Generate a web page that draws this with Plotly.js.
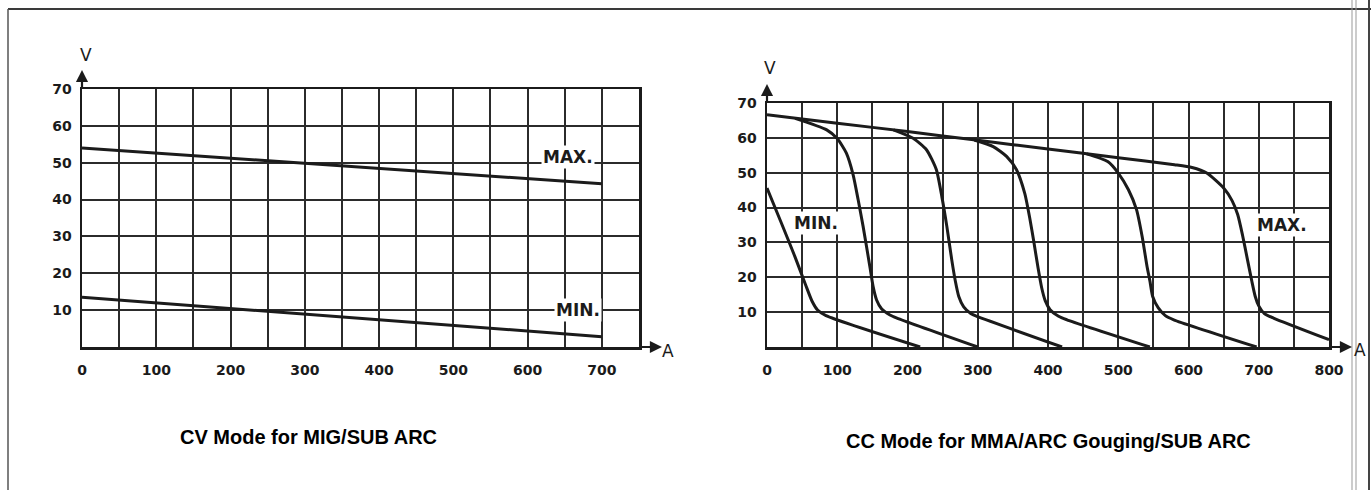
<!DOCTYPE html>
<html>
<head>
<meta charset="utf-8">
<script src="https://cdn.plot.ly/plotly-3.0.1.min.js"></script>
<style>html,body{margin:0;padding:0;background:#fff;}#chart{width:1371px;height:490px;}</style>
</head>
<body>
<div id="chart"></div>
<script>
// ---------- DATA ----------
// CV mode (left chart)
const cvAmps = [0, 700];
const cvMaxVolts = [54, 44.3];
const cvMinVolts = [13.5, 2.8];

// CC mode (right chart) - family of drooping curves
const ccMinAmps  = [0, 20, 40, 55, 64, 72, 84, 218];
const ccMinVolts = [45.6, 35.8, 25.8, 17.8, 13.2, 10.6, 9, 0];

const cc2Amps  = [40, 85, 100, 113, 122.6, 129.7, 136.8, 146.4, 151, 156, 163, 175, 185, 300];
const cc2Volts = [65.6, 62.3, 59.8, 55.6, 49.4, 42.3, 34.6, 23.1, 17.4, 13.5, 11, 9.2, 8.3, 0];

const cc3Amps  = [180, 208, 227, 241, 249, 256, 263, 268, 273, 280, 290, 300, 420];
const cc3Volts = [62.3, 59.9, 56.6, 50.9, 43, 34.6, 25, 19, 14.5, 11.5, 9.6, 8.7, 0];

const cc4Amps  = [295, 322, 341, 355, 367, 374, 380, 386, 391, 396, 403, 415, 427, 545];
const cc4Volts = [59.4, 57.5, 54.7, 50.9, 44, 37, 30, 22.5, 17, 13.3, 10.7, 8.8, 7.8, 0];

const cc5Amps  = [455, 485, 500, 514.5, 526, 534, 541, 545, 549, 557, 567, 579, 697];
const cc5Volts = [55.4, 53.2, 49.9, 45.1, 39.4, 31.7, 23.1, 19, 14.5, 11.2, 9, 7.8, 0];

const ccMaxAmps  = [0, 100, 200, 300, 400, 500, 580, 605, 626, 650, 662, 670, 677, 684, 690, 695, 700, 708, 721, 800];
const ccMaxVolts = [66.6, 64.2, 61.8, 59.3, 56.8, 54.3, 52.3, 51.5, 49.9, 45.6, 42, 38, 32, 25, 19, 14.5, 11.8, 9.6, 8.3, 2.1];

// Axis ticks
const yTickVals = [10, 20, 30, 40, 50, 60, 70];
const cvXRange = [0, 750];
const ccXRange = [0, 800];
const voltRange = [0, 70];

// Text
const cvTitle = 'CV Mode for MIG/SUB ARC';
const ccTitle = 'CC Mode for MMA/ARC Gouging/SUB ARC';

// ---------- STYLE ----------
const W = 1371, H = 490;
const px = x => x / W;
const py = y => 1 - y / H;
const ink = '#1b1b1b';
const gridInk = '#2b2b2b';
const tickFont = {family: 'DejaVu Sans', size: 14, color: ink, weight: 'bold'};

function curve(x, y, xa, ya) {
  return {x: x, y: y, xaxis: xa, yaxis: ya, type: 'scatter', mode: 'lines',
          line: {color: ink, width: 3, shape: 'spline', smoothing: 0.6},
          hoverinfo: 'skip'};
}

const traces = [
  curve(cvAmps, cvMaxVolts, 'x', 'y'),
  curve(cvAmps, cvMinVolts, 'x', 'y'),
  curve(ccMinAmps, ccMinVolts, 'x2', 'y2'),
  curve(cc2Amps, cc2Volts, 'x2', 'y2'),
  curve(cc3Amps, cc3Volts, 'x2', 'y2'),
  curve(cc4Amps, cc4Volts, 'x2', 'y2'),
  curve(cc5Amps, cc5Volts, 'x2', 'y2'),
  curve(ccMaxAmps, ccMaxVolts, 'x2', 'y2')
];

function xAxis(domain, range, anchor) {
  return {domain: domain, range: range, anchor: anchor, tick0: 0, dtick: 100,
          showgrid: true, gridcolor: gridInk, gridwidth: 2,
          minor: {tick0: 0, dtick: 50, showgrid: true, gridcolor: gridInk, gridwidth: 2, ticks: ''},
          showline: true, linecolor: ink, linewidth: 2.5, mirror: true,
          ticks: '', ticklabelstandoff: 9, tickfont: tickFont, zeroline: false, fixedrange: true};
}
function yAxis(domain, anchor) {
  return {domain: domain, range: voltRange, anchor: anchor, tickvals: yTickVals,
          showgrid: true, gridcolor: gridInk, gridwidth: 2,
          showline: true, linecolor: ink, linewidth: 2.5, mirror: true,
          ticks: '', ticklabelstandoff: 5, tickfont: tickFont, zeroline: false, fixedrange: true};
}

function arrow(hx, hy, tx, ty) {
  return {xref: 'paper', yref: 'paper', x: px(hx), y: py(hy), ax: tx - hx, ay: ty - hy,
          text: '', showarrow: true, arrowhead: 2, arrowsize: 1.1, arrowwidth: 2.2, arrowcolor: ink};
}
function label(text, x, y, size, weight) {
  return {xref: 'paper', yref: 'paper', x: px(x), y: py(y), text: text, showarrow: false,
          xanchor: 'center', yanchor: 'middle',
          font: {family: 'DejaVu Sans', size: size, color: ink, weight: weight || 'normal'}};
}
function curveTag(text, x, y, xa, ya) {
  return {xref: xa, yref: ya, x: x, y: y, text: text, showarrow: false, bgcolor: '#ffffff',
          borderpad: 1, xanchor: 'center', yanchor: 'middle',
          font: {family: 'DejaVu Sans', size: 17, color: ink, weight: 'bold'}};
}
function titleNote(text, x, y) {
  return {xref: 'paper', yref: 'paper', x: px(x), y: py(y), text: text, showarrow: false,
          xanchor: 'center', yanchor: 'middle',
          font: {family: 'Liberation Sans', size: 20, color: '#000', weight: 'bold'}};
}

const annotations = [
  curveTag('MAX.', 655, 51.5, 'x', 'y'),
  curveTag('MIN.', 668, 10, 'x', 'y'),
  curveTag('MIN.', 70, 35.6, 'x2', 'y2'),
  curveTag('MAX.', 733, 35, 'x2', 'y2'),
  // axis arrows
  arrow(82, 70, 82, 90),
  arrow(662, 347, 638, 347),
  arrow(767, 84, 767, 104),
  arrow(1352, 347, 1328, 347),
  // axis letters
  label('V', 86, 55, 17),
  label('A', 668, 351, 17),
  label('V', 770, 68, 17),
  label('A', 1360, 350, 17),
  // chart titles
  titleNote(cvTitle, 308, 437),
  titleNote(ccTitle, 1048, 441)
];

const frameLine = (x0, y0, x1, y1, c, w) => ({type: 'line', xref: 'paper', yref: 'paper',
  x0: px(x0), y0: py(y0), x1: px(x1), y1: py(y1), line: {color: c, width: w}});

const shapes = [
  frameLine(8, 9, 1371, 9, '#3a3a3a', 2),
  frameLine(8, 9, 8, 490, '#555', 1.5),
  frameLine(1352, 0, 1352, 490, '#999', 1),
  frameLine(1356, 0, 1356, 490, '#999', 1),
  frameLine(1369, 0, 1369, 490, '#444', 2)
];

const layout = {
  width: W, height: H,
  margin: {l: 0, r: 0, t: 0, b: 0},
  paper_bgcolor: '#ffffff', plot_bgcolor: '#ffffff',
  showlegend: false,
  xaxis: xAxis([px(82), px(639)], cvXRange, 'y'),
  yaxis: yAxis([1 - 347 / H, 1 - 89 / H], 'x'),
  xaxis2: xAxis([px(767), px(1329)], ccXRange, 'y2'),
  yaxis2: yAxis([1 - 347 / H, 1 - 103 / H], 'x2'),
  annotations: annotations,
  shapes: shapes
};

Plotly.newPlot('chart', traces, layout, {staticPlot: true, displayModeBar: false});
</script>
</body>
</html>
